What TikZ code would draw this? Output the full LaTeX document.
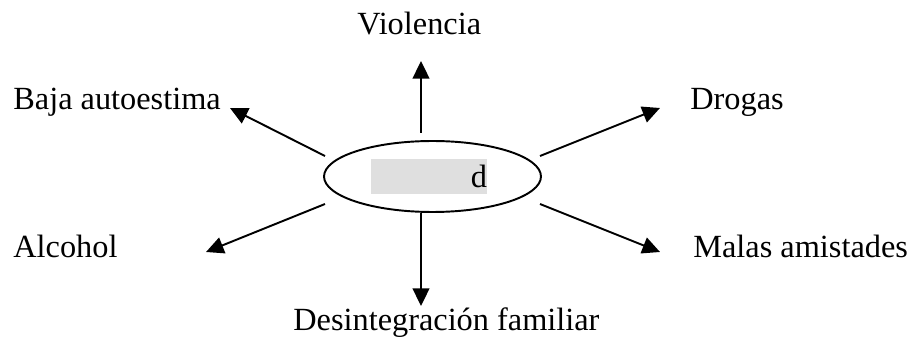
\documentclass[tikz,border=0pt]{standalone}
\usepackage{fontspec}
\setmainfont{Liberation Serif}
\usetikzlibrary{arrows.meta,shapes.geometric}
\definecolor{grisfondo}{RGB}{223,223,223}

\begin{document}
\begin{tikzpicture}[x=0.02cm, y=-0.02cm,
	etiqueta/.style={inner sep=0pt, anchor=base west, font=\fontsize{18.4}{22}\selectfont},
	flecha/.style={line width=1.1pt, -{Triangle[length=10pt, width=9.5pt]}}]

	\useasboundingbox (0,0) rectangle (908,337);

	\node[draw, ellipse, line width=1.1pt, minimum width=4.34cm, minimum height=1.42cm] (Centro) at (432.5,176.5) {};
	\node[fill=grisfondo, inner sep=0pt, text width=2.32cm, minimum height=0.7cm, align=right, font=\fontsize{18.4}{22}\selectfont] (Rotulo) at (429,176.5) {d};

	\node[etiqueta] (Violencia) at (357,35) {Violencia};
	\node[etiqueta] (Baja) at (13,110) {Baja autoestima};
	\node[etiqueta] (Drogas) at (690,110) {Drogas};
	\node[etiqueta] (Alcohol) at (13,257) {Alcohol};
	\node[etiqueta] (Malas) at (693,257) {Malas amistades};
	\node[etiqueta] (Desintegracion) at (293,330) {Desintegración familiar};

	% salidas junto a la elipse
	\coordinate (sArriba) at (421,133);
	\coordinate (sAbajo) at (Centro.south -| sArriba);
	\coordinate (sBaja) at (325,156);
	\coordinate (sAlcohol) at (325,204);
	\coordinate (sDrogas) at (540,156);
	\coordinate (sMalas) at (540,204);

	% puntas
	\coordinate (pArriba) at (421,61);
	\coordinate (pAbajo) at (421,306);
	\coordinate (pBaja) at (230,108);
	\coordinate (pAlcohol) at (206,252);
	\coordinate (pDrogas) at (660,108);
	\coordinate (pMalas) at (660,252);

	\draw[flecha] (sArriba) -- (pArriba);
	\draw[flecha] (sAbajo) -- (pAbajo);
	\draw[flecha] (sBaja) -- (pBaja);
	\draw[flecha] (sAlcohol) -- (pAlcohol);
	\draw[flecha] (sDrogas) -- (pDrogas);
	\draw[flecha] (sMalas) -- (pMalas);

\end{tikzpicture}
\end{document}
